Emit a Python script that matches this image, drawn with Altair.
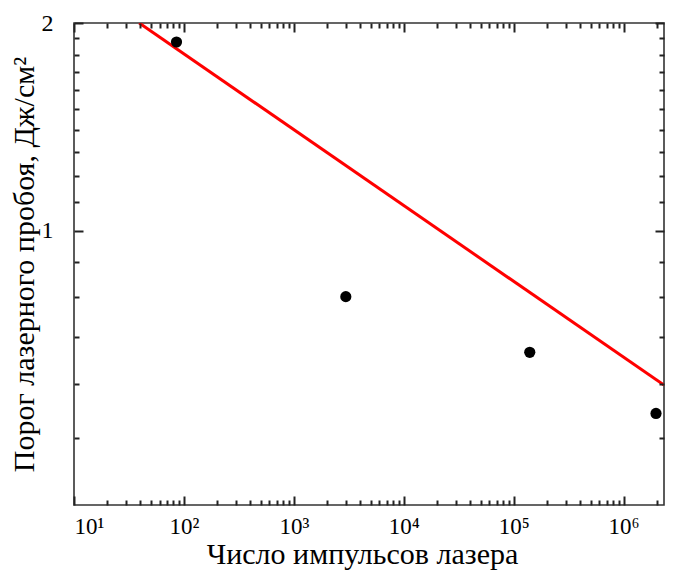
import altair as alt
import pandas as pd

# Data
pulses = [85.6, 2970, 1.40e5, 1.97e6]
threshold = [1.877, 0.802, 0.666, 0.543]

fit_pulses = [39.2, 2.33e6]
fit_threshold = [2.0, 0.597]

x_domain = [10, 2.33e6]
y_domain = [0.4, 2.0]

x_major = [10, 100, 1000, 10000, 100000, 1000000]
x_labels = ["10\u00b9", "10\u00b2", "10\u00b3", "10\u2074", "10\u2075", "10\u2076"]
x_minor = [m * 10 ** k for k in range(1, 7) for m in range(2, 10) if m * 10 ** k < x_domain[1]]
y_major = [1, 2]
y_labels = ["1", "2"]
y_minor = [0.5, 0.6, 0.7, 0.8, 0.9, 1.1, 1.2, 1.3, 1.4, 1.5, 1.6, 1.7, 1.8, 1.9]

W, H = 590, 482
FONT = "Liberation Serif"
TICK_COLOR = "#222222"

df_pts = pd.DataFrame({"n": pulses, "f": threshold})
df_fit = pd.DataFrame({"n": fit_pulses, "f": fit_threshold})

xscale = alt.Scale(type="log", domain=x_domain, nice=False)
yscale = alt.Scale(type="log", domain=y_domain, nice=False)

x_expr = " : ".join(
    f"datum.value == {v} ? '{l}'" for v, l in zip(x_major, x_labels)
) + " : ''"
y_expr = " : ".join(
    f"datum.value == {v} ? '{l}'" for v, l in zip(y_major, y_labels)
) + " : ''"


def tick_axis(orient, offset, values, size):
    return alt.Axis(
        orient=orient,
        offset=offset,
        values=values,
        labels=False,
        domain=False,
        grid=False,
        title=None,
        ticks=True,
        tickColor=TICK_COLOR,
        tickWidth=2,
        tickSize=size,
        tickOpacity=1,
        zindex=2,
    )


axis_x_labels = alt.Axis(
    orient="bottom",
    values=x_major,
    labelExpr=x_expr,
    ticks=False,
    domain=False,
    grid=False,
    labelFont=FONT,
    labelFontSize=23,
    labelColor="black",
    labelPadding=10,
    title="Число импульсов лазера",
    titleFont=FONT,
    titleFontSize=30,
    titleFontWeight="normal",
    titleColor="black",
    titleBaseline="alphabetic",
    titleX=288,
    titleY=58,
)
axis_y_labels = alt.Axis(
    orient="left",
    values=y_major,
    labelExpr=y_expr,
    ticks=False,
    domain=False,
    grid=False,
    labelFont=FONT,
    labelFontSize=24,
    labelColor="black",
    labelPadding=21,
    title="Порог лазерного пробоя, Дж/см\u00b2",
    titleFont=FONT,
    titleFontSize=30,
    titleFontWeight="normal",
    titleColor="black",
    titleBaseline="alphabetic",
    titleX=-41,
    titleY=H / 2,
)


def ghost(xaxis, yaxis):
    return alt.Chart(df_pts).mark_circle(opacity=0).encode(
        x=alt.X("n:Q", scale=xscale, axis=xaxis),
        y=alt.Y("f:Q", scale=yscale, axis=yaxis),
    )


points = alt.Chart(df_pts).mark_circle(size=125, color="black", opacity=1).encode(
    x=alt.X("n:Q", scale=xscale, axis=axis_x_labels),
    y=alt.Y("f:Q", scale=yscale, axis=axis_y_labels),
)

fit = alt.Chart(df_fit).mark_line(color="#ff0000", strokeWidth=3, clip=True).encode(
    x=alt.X("n:Q", scale=xscale, axis=tick_axis("top", -H, x_major, 9)),
    y=alt.Y("f:Q", scale=yscale, axis=tick_axis("right", -W, y_major, 9)),
)

g1 = ghost(tick_axis("top", -H, x_minor, 5), tick_axis("right", -W, y_minor, 5))
g2 = ghost(tick_axis("bottom", -H, x_major, 9), tick_axis("left", -W, y_major, 9))
g3 = ghost(tick_axis("bottom", -H, x_minor, 5), tick_axis("left", -W, y_minor, 5))

chart = (
    alt.layer(fit, points, g1, g2, g3)
    .resolve_axis(x="independent", y="independent")
    .properties(
        width=W,
        height=H,
        autosize=alt.AutoSizeParams(type="none"),
        padding={"left": 66, "top": 15, "right": 1, "bottom": 65},
        background="white",
    )
    .configure_view(stroke="#333333", strokeWidth=1.6)
)

chart.save("out.html", embed_options={"renderer": "svg", "actions": False})
